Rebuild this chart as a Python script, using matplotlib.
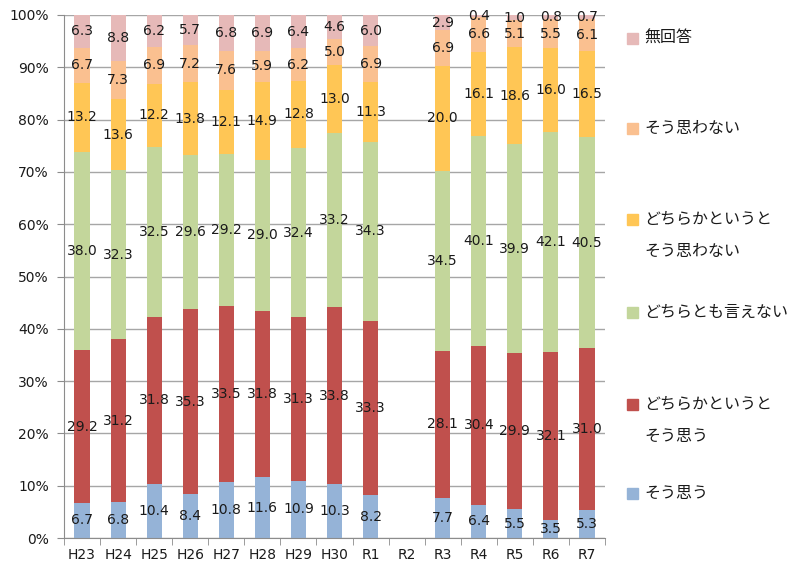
import numpy as np
import matplotlib
matplotlib.use("Agg")
import matplotlib.pyplot as plt
from matplotlib.patches import Rectangle
from matplotlib.ticker import FixedLocator, MultipleLocator

plt.rcParams['font.family'] = ['DejaVu Sans', 'Noto Sans CJK JP']

categories = ["H23", "H24", "H25", "H26", "H27", "H28", "H29", "H30", "R1", "R2",
              "R3", "R4", "R5", "R6", "R7"]
nan = np.nan
s_agree = [6.7, 6.8, 10.4, 8.4, 10.8, 11.6, 10.9, 10.3, 8.2, nan, 7.7, 6.4, 5.5, 3.5, 5.3]
s_some_agree = [29.2, 31.2, 31.8, 35.3, 33.5, 31.8, 31.3, 33.8, 33.3, nan, 28.1, 30.4, 29.9, 32.1, 31.0]
s_neutral = [38.0, 32.3, 32.5, 29.6, 29.2, 29.0, 32.4, 33.2, 34.3, nan, 34.5, 40.1, 39.9, 42.1, 40.5]
s_some_disagree = [13.2, 13.6, 12.2, 13.8, 12.1, 14.9, 12.8, 13.0, 11.3, nan, 20.0, 16.1, 18.6, 16.0, 16.5]
s_disagree = [6.7, 7.3, 6.9, 7.2, 7.6, 5.9, 6.2, 5.0, 6.9, nan, 6.9, 6.6, 5.1, 5.5, 6.1]
s_noanswer = [6.3, 8.8, 6.2, 5.7, 6.8, 6.9, 6.4, 4.6, 6.0, nan, 2.9, 0.4, 1.0, 0.8, 0.7]

series_names = ["そう思う", "どちらかというと\nそう思う", "どちらとも言えない",
                "どちらかというと\nそう思わない", "そう思わない", "無回答"]
series = [s_agree, s_some_agree, s_neutral, s_some_disagree, s_disagree, s_noanswer]
colors = ["#95B3D7", "#C0504D", "#C3D69B", "#FFC655", "#FAC090", "#E6B9B8"]

data = np.array(series, dtype=float)
totals = np.nansum(data, axis=0)
totals[totals == 0] = 1
pct = data / totals * 100

fig = plt.figure(figsize=(7.88, 5.62), dpi=100)
ax = fig.add_axes([64 / 788, 1 - 538 / 562, 541 / 788, 523 / 562])

x = np.arange(len(categories))
bottom = np.zeros(len(categories))
for vals, raw, col in zip(pct, data, colors):
    h = np.nan_to_num(vals)
    ax.bar(x, h, 0.42, bottom=bottom, color=col, zorder=2)
    for xi, hi, bi, r in zip(x, h, bottom, raw):
        if not np.isnan(r):
            ax.text(xi, bi + hi / 2, f"{r:.1f}", ha='center', va='center',
                    fontsize=10, color='#1a1a1a', zorder=3)
    bottom += h

ax.set_xlim(-0.5, len(categories) - 0.5)
ax.set_ylim(0, 100)
ax.yaxis.set_major_locator(MultipleLocator(10))
ax.set_yticklabels([f"{int(v)}%" for v in ax.get_yticks()])
ax.yaxis.grid(True, color='#A6A6A6', linewidth=1, zorder=0)
ax.set_axisbelow(True)
ax.set_xticks(x)
ax.set_xticklabels(categories)
ax.xaxis.set_minor_locator(FixedLocator(np.arange(-0.5, len(categories), 1)))
ax.tick_params(axis='x', which='major', length=0, labelsize=10, pad=7, colors='#1a1a1a')
ax.tick_params(axis='x', which='minor', length=5, color='#8c8c8c', direction='out')
ax.tick_params(axis='y', length=5, color='#8c8c8c', labelsize=10, colors='#1a1a1a', pad=6)
ax.tick_params(axis='y', color='#8c8c8c')
for sp in ['top', 'right']:
    ax.spines[sp].set_visible(False)
for sp in ['left', 'bottom']:
    ax.spines[sp].set_color('#8c8c8c')

# legend (manual, top to bottom)
legend_y = [38, 128, 219, 312, 404, 493]
for name, col, ly in zip(series_names[::-1], colors[::-1], legend_y):
    fy = 1 - ly / 562
    fig.patches.append(Rectangle((627 / 788, fy - 5.5 / 562), 11 / 788, 11 / 562,
                                 transform=fig.transFigure, color=col))
    lines = name.split("\n")
    for k, ln in enumerate(lines):
        fig.text(644 / 788, 1 - (ly + k * 32) / 562, ln, ha='left', va='center',
                 fontsize=11.5, color='#1a1a1a', family=['Noto Sans CJK JP', 'DejaVu Sans'])

fig.savefig("out.png", dpi=100)
